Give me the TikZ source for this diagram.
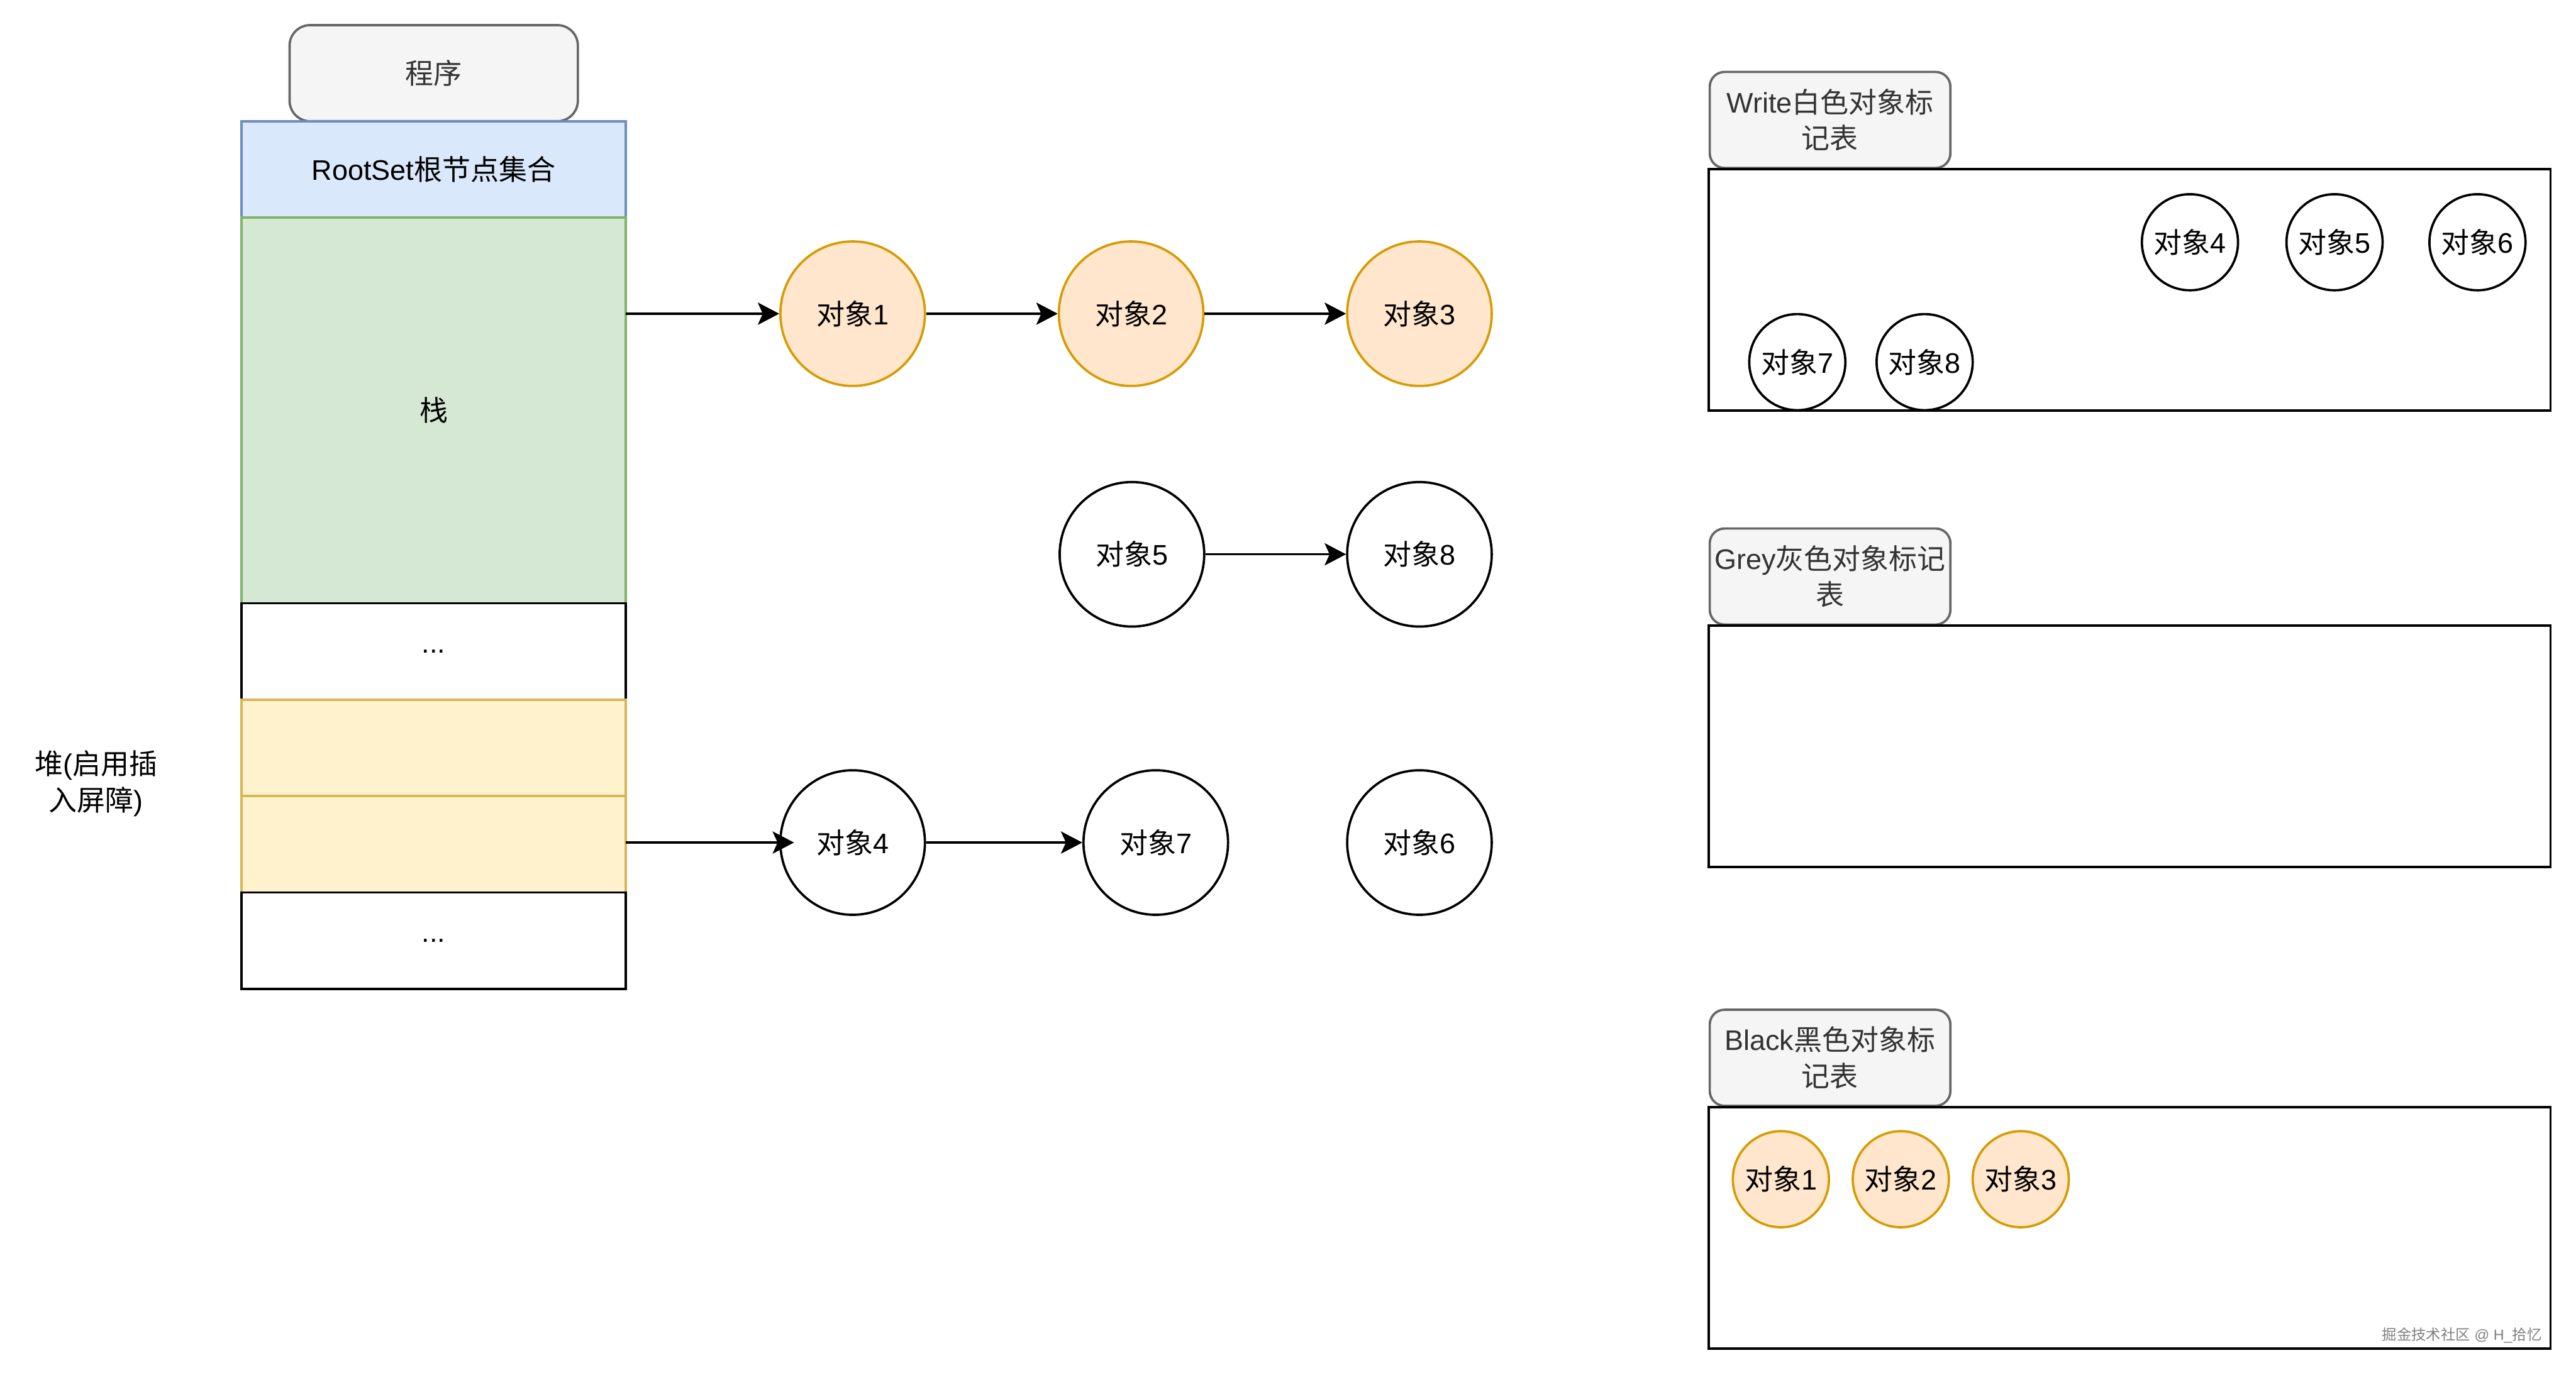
\documentclass[tikz,border=0pt]{standalone}
\usepackage{fontspec}
\setmainfont{Liberation Sans}
\newfontfamily\cjk{Noto Sans CJK SC}
\usetikzlibrary{arrows.meta, positioning}
\definecolor{progfill}{HTML}{F5F5F5}
\definecolor{progdraw}{HTML}{666666}
\definecolor{progtext}{HTML}{333333}
\definecolor{rootfill}{HTML}{DAE8FC}
\definecolor{rootdraw}{HTML}{6C8EBF}
\definecolor{stackfill}{HTML}{D5E8D4}
\definecolor{stackdraw}{HTML}{82B366}
\definecolor{heapfill}{HTML}{FFF2CC}
\definecolor{heapdraw}{HTML}{D6B656}
\definecolor{objfill}{HTML}{FFE6CC}
\definecolor{objdraw}{HTML}{D79B00}
\newcommand{\duixiang}[1]{{\cjk 对象}#1}

\begin{document}
\begin{tikzpicture}[x=1cm, y=-1cm,
        every node/.style={font=\fontsize{9.8}{12.5}\selectfont},
        cell/.style={rectangle, draw, line width=0.8pt, minimum width=4.68cm, minimum height=1.174cm, inner sep=0pt, outer sep=0pt},
        prog/.style={rectangle, rounded corners=0.25cm, draw=progdraw, fill=progfill, text=progtext, line width=0.8pt, minimum width=3.51cm, minimum height=1.17cm},
        obj/.style={circle, draw, line width=0.8pt, minimum size=1.76cm, inner sep=0pt},
        marked/.style={obj, fill=objfill, draw=objdraw},
        mini/.style={circle, draw, line width=0.8pt, minimum size=1.17cm, inner sep=0pt},
        minimarked/.style={mini, fill=objfill, draw=objdraw},
        tag/.style={rectangle, rounded corners=0.18cm, draw=progdraw, fill=progfill, text=progtext, line width=0.8pt, minimum width=2.93cm, minimum height=1.17cm, inner sep=0pt, align=center, anchor=south west},
        marktable/.style={rectangle, draw, line width=0.8pt, minimum width=10.25cm, minimum height=2.94cm, outer sep=0pt, anchor=north west},
        arr/.style={-{Stealth[length=0.26cm, width=0.27cm, inset=0.06cm]}, line width=0.8pt}
    ]
        \useasboundingbox (0,0) rectangle (31.36,16.74);

        % Programm und Speicher
        \node[prog] (prog) at (5.28,0.891) {{\cjk 程序}};
        \node[cell, fill=rootfill, draw=rootdraw, anchor=north] (root) at (5.28,1.476) {RootSet{\cjk 根节点集合}};
        \node[cell, fill=stackfill, draw=stackdraw, minimum height=4.696cm, below=0cm of root] (stack) {{\cjk 栈}};
        \node[cell, below=0cm of stack] (dots1) {...};
        \node[cell, fill=heapfill, draw=heapdraw, below=0cm of dots1] (heapa) {};
        \node[cell, fill=heapfill, draw=heapdraw, below=0cm of heapa] (heapb) {};
        \node[cell, below=0cm of heapb] (dots2) {...};
        \node[align=center] (heaplbl) at (1.17,9.54) {{\cjk 堆}({\cjk 启用插}\\{\cjk 入屏障})};

        % Objekte
        \node[marked] (o1) at (10.38,3.82) {\duixiang1};
        \node[marked] (o2) at (13.77,3.82) {\duixiang2};
        \node[marked] (o3) at (17.28,3.82) {\duixiang3};
        \node[obj] (o5) at (13.78,6.75) {\duixiang5};
        \node[obj] (o8) at (17.28,6.75) {\duixiang8};
        \node[obj] (o4) at (10.38,10.26) {\duixiang4};
        \node[obj] (o7) at (14.07,10.26) {\duixiang7};
        \node[obj] (o6) at (17.28,10.26) {\duixiang6};
        \draw[arr] (stack.east |- o1) -- (o1);
        \draw[arr] (o1) -- (o2); \draw[arr] (o2) -- (o3);
        \draw[arr] (o5) -- (o8);
        \draw[arr] (heapb.east |- o4) -- ([xshift=0.18cm]o4.west);
        \draw[arr] (o4) -- (o7);

        % Markierungstabellen
        \node[tag] (wtag) at (20.8,2.06) {Write{\cjk 白色对象标}\\{\cjk 记表}};
        \node[marktable] (wtab) at (wtag.south west) {};
        \node[mini] (w4) at (26.66,2.95) {\duixiang4};
        \node[mini] (w5) at (28.42,2.95) {\duixiang5};
        \node[mini] (w6) at (30.16,2.95) {\duixiang6};
        \node[mini] (w7) at (21.88,4.41) {\duixiang7};
        \node[mini] (w8) at (23.43,4.41) {\duixiang8};

        \node[tag] (gtag) at (20.8,7.62) {Grey{\cjk 灰色对象标记}\\{\cjk 表}};
        \node[marktable] (gtab) at (gtag.south west) {};

        \node[tag] (btag) at (20.8,13.48) {Black{\cjk 黑色对象标}\\{\cjk 记表}};
        \node[marktable] (btab) at (btag.south west) {};
        \node[minimarked] (b1) at (21.68,14.36) {\duixiang1};
        \node[minimarked] (b2) at (23.14,14.36) {\duixiang2};
        \node[minimarked] (b3) at (24.60,14.36) {\duixiang3};

        \node[anchor=east, inner sep=0pt, font=\fontsize{5.1}{6}\selectfont, text=gray] (mark) at (30.95,16.26) {{\cjk 掘金技术社区} @ H\_{\cjk 拾忆}};
    \end{tikzpicture}
\end{document}
